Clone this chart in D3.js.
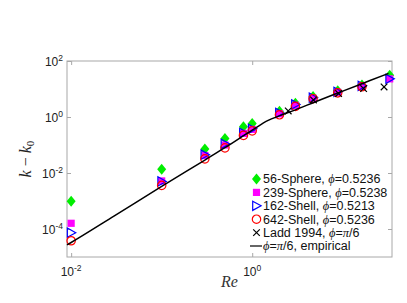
<!DOCTYPE html>
<html>
<head>
<meta charset="utf-8">
<script src="https://cdn.jsdelivr.net/npm/d3@7"></script>
<style>
  body { margin: 0; background: #fff; }
  svg { display: block; }
  .tick-label { font-family: "Liberation Sans", Arial, sans-serif; font-size: 12px; fill: #222; }
  .legend text { font-family: "Liberation Sans", Arial, sans-serif; font-size: 12.5px; fill: #111; }
  .math { font-family: "Liberation Serif", "Times New Roman", serif; font-style: italic; }
</style>
</head>
<body>
<div id="chart"></div>
<script>
// Reynolds numbers of the simulation points
const reValues = [0.01, 0.1, 0.3, 0.5, 0.8, 1, 2, 3, 4.7, 8.8, 16.3, 33];

// k - k0 for each series (null = no point)
const sphere56 = [9.8e-4, 0.0135, 0.072, 0.17, 0.45, 0.59, 1.6, 3.1, 5.4, 8.6, 14, 31];
const sphere239 = [1.6e-4, 0.0052, 0.042, 0.10, 0.26, 0.36, 1.3, 2.6, 4.7, 7.6, 12.5, 23];
const shell162 = [7.4e-5, 0.0050, 0.045, 0.11, 0.27, 0.38, 1.4, 2.8, 4.9, 7.9, 13, 23];
const shell642 = [3.8e-5, 0.0036, 0.032, 0.079, 0.22, 0.32, 1.2, 2.4, 4.5, 7.3, 12, null];

// Ladd 1994
const laddRe = [2.5, 4.75, 9.0, 17, 28.6];
const laddK = [1.65, 4.05, 6.9, 10.4, 11.8];

// empirical curve, phi = pi/6
const empRe = [0.009, 0.01, 0.03, 0.1, 0.3, 0.5, 1, 1.5, 2, 3, 5, 10, 20, 32];
const empK = [2.7e-5, 3.3e-5, 2.95e-4, 3.3e-3, 0.029, 0.08, 0.34, 0.76, 1.1, 1.8, 3.5, 8.4, 20, 36];

const xTicks = [1e-2, 1e0];
const yTicks = [1e-4, 1e-2, 1e0, 1e2];

const width = 407, height = 303;
const mLeft = 67, mRight = 392, mTop = 61, mBottom = 257;

const svg = d3.select("#chart").append("svg")
  .attr("width", width)
  .attr("height", height);

const x = d3.scaleLog().domain([0.009, 35]).range([mLeft, mRight]);
const y = d3.scaleLog().domain([1e-5, 1e2]).range([mBottom, mTop]);

// axes box
svg.append("rect")
  .attr("x", mLeft).attr("y", mTop)
  .attr("width", mRight - mLeft).attr("height", mBottom - mTop)
  .attr("fill", "#fff").attr("stroke", "#a8a8a8").attr("stroke-width", 1);

const tickColor = "#a8a8a8";
const addAxis = (axis, tx, ty) => {
  const g = svg.append("g").attr("transform", `translate(${tx},${ty})`).call(axis);
  g.select(".domain").remove();
  g.selectAll(".tick line").attr("stroke", tickColor);
};
addAxis(d3.axisBottom(x).tickValues(xTicks).tickSize(-4).tickFormat(""), 0, mBottom);
addAxis(d3.axisTop(x).tickValues(xTicks).tickSize(-4).tickFormat(""), 0, mTop);
addAxis(d3.axisLeft(y).tickValues(yTicks).tickSize(-4).tickFormat(""), mLeft, 0);
addAxis(d3.axisRight(y).tickValues(yTicks).tickSize(-4).tickFormat(""), mRight, 0);

// tick labels with superscripts
const expOf = (v) => Math.round(Math.log10(v));
svg.selectAll("text.xlab").data(xTicks).enter()
  .append("text")
  .attr("class", "tick-label xlab")
  .attr("x", (d) => x(d))
  .attr("y", 276)
  .attr("text-anchor", "middle")
  .html((d) => `10<tspan dy="-5" font-size="8.5px">${expOf(d)}</tspan>`);

svg.selectAll("text.ylab").data(yTicks).enter()
  .append("text")
  .attr("class", "tick-label ylab")
  .attr("x", 63)
  .attr("y", (d) => y(d) + 5)
  .attr("text-anchor", "end")
  .html((d) => `10<tspan dy="-5" font-size="8.5px">${expOf(d)}</tspan>`);

// axis titles
svg.append("text")
  .attr("transform", `translate(31,${(mTop + mBottom) / 2}) rotate(-90)`)
  .attr("text-anchor", "middle")
  .attr("font-family", "Liberation Serif, Times New Roman, serif")
  .attr("font-size", "16px")
  .attr("fill", "#222")
  .html(`<tspan font-style="italic">k</tspan> − <tspan font-style="italic">k</tspan><tspan font-size="11px" dy="3">0</tspan>`);

svg.append("text")
  .attr("x", (mLeft + mRight) / 2)
  .attr("y", 287)
  .attr("text-anchor", "middle")
  .attr("font-family", "Liberation Serif, Times New Roman, serif")
  .attr("font-style", "italic")
  .attr("font-size", "16px")
  .attr("fill", "#333")
  .text("Re");

// marker shapes
const shapes = {
  diamond: "M0,-5.5L4.5,0L0,5.5L-4.5,0Z",
  square: "M-3.6,-3.6H3.6V3.6H-3.6Z",
  triRight: "M-3.8,-4.6L4.6,0L-3.8,4.6Z",
  circle: d3.symbol().type(d3.symbolCircle).size(Math.PI * 4.2 * 4.2)(),
  cross: "M-3.3,-3.3L3.3,3.3M-3.3,3.3L3.3,-3.3"
};

const series = [
  { name: "56-Sphere, ", phi: "=0.5236", values: sphere56, shape: "diamond", fill: "#00ee00", stroke: "none" },
  { name: "239-Sphere, ", phi: "=0.5238", values: sphere239, shape: "square", fill: "#ff00ff", stroke: "none" },
  { name: "162-Shell, ", phi: "=0.5213", values: shell162, shape: "triRight", fill: "none", stroke: "#0000ff" },
  { name: "642-Shell, ", phi: "=0.5236", values: shell642, shape: "circle", fill: "none", stroke: "#ff0000" }
];

const plot = svg.append("g");

series.forEach((s) => {
  const pts = reValues.map((r, i) => ({ re: r, k: s.values[i] })).filter((p) => p.k !== null);
  plot.append("g").selectAll("path").data(pts).enter()
    .append("path")
    .attr("d", shapes[s.shape])
    .attr("transform", (d) => `translate(${x(d.re)},${y(d.k)})`)
    .attr("fill", s.fill)
    .attr("stroke", s.stroke)
    .attr("stroke-width", 1.2);
});

const ladd = laddRe.map((r, i) => ({ re: r, k: laddK[i] }));
plot.append("g").selectAll("path").data(ladd).enter()
  .append("path")
  .attr("d", shapes.cross)
  .attr("transform", (d) => `translate(${x(d.re)},${y(d.k)})`)
  .attr("stroke", "#000")
  .attr("stroke-width", 1.2);

const emp = empRe.map((r, i) => ({ re: r, k: empK[i] }));
plot.append("path")
  .datum(emp)
  .attr("fill", "none")
  .attr("stroke", "#000")
  .attr("stroke-width", 1.5)
  .attr("d", d3.line().curve(d3.curveMonotoneX).x((d) => x(d.re)).y((d) => y(d.k)));

// legend
const legend = svg.append("g").attr("class", "legend");
const rowY = (i) => 179 + i * 13.4;
const mx = 256.5, tx = 263;

series.forEach((s, i) => {
  legend.append("path")
    .attr("d", shapes[s.shape])
    .attr("transform", `translate(${mx},${rowY(i)})`)
    .attr("fill", s.fill)
    .attr("stroke", s.stroke)
    .attr("stroke-width", 1.2);
  legend.append("text")
    .attr("x", tx).attr("y", rowY(i) + 4.4)
    .html(`${s.name}<tspan class="math">ϕ</tspan>${s.phi}`);
});

legend.append("path")
  .attr("d", shapes.cross)
  .attr("transform", `translate(${mx},${rowY(4)})`)
  .attr("stroke", "#000")
  .attr("stroke-width", 1.2);
legend.append("text")
  .attr("x", tx).attr("y", rowY(4) + 4.4)
  .html(`Ladd 1994, <tspan class="math">ϕ</tspan>=<tspan class="math">π</tspan>/6`);

legend.append("line")
  .attr("x1", 250).attr("x2", 262)
  .attr("y1", rowY(5)).attr("y2", rowY(5))
  .attr("stroke", "#000").attr("stroke-width", 1.2);
legend.append("text")
  .attr("x", tx).attr("y", rowY(5) + 4.4)
  .html(`<tspan class="math">ϕ</tspan>=<tspan class="math">π</tspan>/6, empirical`);
</script>
</body>
</html>
